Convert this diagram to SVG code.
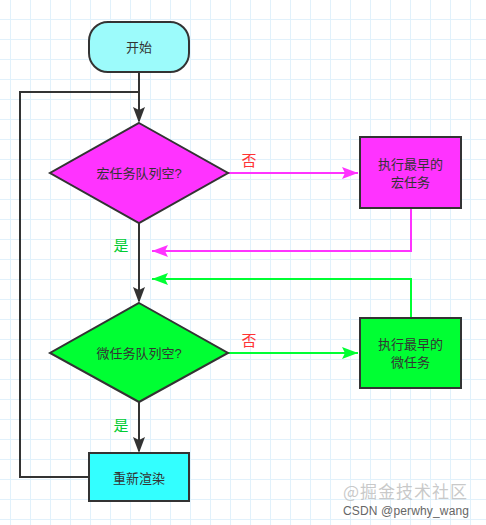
<svg xmlns="http://www.w3.org/2000/svg" width="486" height="525" viewBox="0 0 486 525">
<style>
.t{font-family:"Liberation Sans","Noto Sans CJK SC",sans-serif;font-size:13px;fill:#333;text-anchor:middle;dominant-baseline:central}
.node{stroke:#333;stroke-width:2}
.dk{fill:none;stroke:#333;stroke-width:2}
.mg{fill:none;stroke:#ff33ff;stroke-width:2}
.gr{fill:none;stroke:#00ff33;stroke-width:2}
.no{font-family:"Liberation Sans","Noto Sans CJK SC",sans-serif;font-size:15px;fill:#ff3333;text-anchor:middle;dominant-baseline:central}
.yes{font-family:"Liberation Sans","Noto Sans CJK SC",sans-serif;font-size:15px;fill:#00cc33;text-anchor:middle;dominant-baseline:central}
.ah{fill:#333}
</style>
<defs>
<pattern id="grid" x="10" y="19" width="20" height="20" patternUnits="userSpaceOnUse">
<path d="M0.5 0V20M0 0.5H20" stroke="#e1f1fb" stroke-width="1" fill="none"/>
</pattern>
<marker id="aMg" markerUnits="userSpaceOnUse" markerWidth="16" markerHeight="12" refX="16" refY="6" orient="auto" viewBox="0 0 16 12">
<path d="M0,0 L16,6 L0,12 L3,6 z" fill="#ff33ff"/>
</marker>
<marker id="aGr" markerUnits="userSpaceOnUse" markerWidth="16" markerHeight="12" refX="16" refY="6" orient="auto" viewBox="0 0 16 12">
<path d="M0,0 L16,6 L0,12 L3,6 z" fill="#00ff33"/>
</marker>
</defs>
<rect width="486" height="525" fill="#ffffff"/>
<rect width="486" height="525" fill="url(#grid)"/>

<g id="connectors">
<path class="dk" d="M89 477H20V92H139"/>
<path class="dk" d="M139 72V121"/>
<path class="mg" d="M228 173H358" marker-end="url(#aMg)"/>
<path class="mg" d="M411 208V251H152" marker-end="url(#aMg)"/>
<path class="gr" d="M411 318V279H152" marker-end="url(#aGr)"/>
<path class="dk" d="M139 223V301"/>
<path class="gr" d="M228 353H358" marker-end="url(#aGr)"/>
<path class="dk" d="M139 402V451"/>
<path class="ah" d="M133 107L139 123L145 107L139 110z"/>
<path class="ah" d="M133 287L139 303L145 287L139 290z"/>
<path class="ah" d="M133 437L139 453L145 437L139 440z"/>
<text class="no" x="249" y="160">否</text>
<text class="yes" x="121" y="245">是</text>
<text class="no" x="249" y="340">否</text>
<text class="yes" x="121" y="425">是</text>
</g>

<g id="start">
<rect class="node" x="89" y="22" width="100" height="50" rx="19" fill="#9cfbfb"/>
<text class="t" x="139" y="47">开始</text>
</g>
<g id="macroCheck">
<polygon class="node" points="139,123 228,173 139,223 50,173" fill="#ff33ff"/>
<text class="t" x="139" y="173">宏任务队列空?</text>
</g>
<g id="macroTask">
<rect class="node" x="360" y="137" width="101" height="71" fill="#ff33ff"/>
<text class="t" x="410.5" y="164">执行最早的</text>
<text class="t" x="410.5" y="182">宏任务</text>
</g>
<g id="microCheck">
<polygon class="node" points="139,303 228,353 139,402 50,353" fill="#00ff33"/>
<text class="t" x="139" y="353">微任务队列空?</text>
</g>
<g id="microTask">
<rect class="node" x="360" y="318" width="101" height="70" fill="#00ff33"/>
<text class="t" x="410.5" y="344">执行最早的</text>
<text class="t" x="410.5" y="362">微任务</text>
</g>
<g id="render">
<rect class="node" x="89" y="453" width="100" height="48" fill="#33ffff"/>
<text class="t" x="139" y="478">重新渲染</text>
</g>
<g id="watermark">
<text x="343" y="498" font-family="&quot;Noto Sans CJK SC&quot;,sans-serif" font-size="17" fill="#bbbbbb" fill-opacity="0.8" textLength="124">@掘金技术社区</text>
<text x="343" y="515" font-family="&quot;Liberation Sans&quot;,sans-serif" font-size="12" fill="#666666" textLength="126">CSDN @perwhy_wang</text>
</g>
</svg>
